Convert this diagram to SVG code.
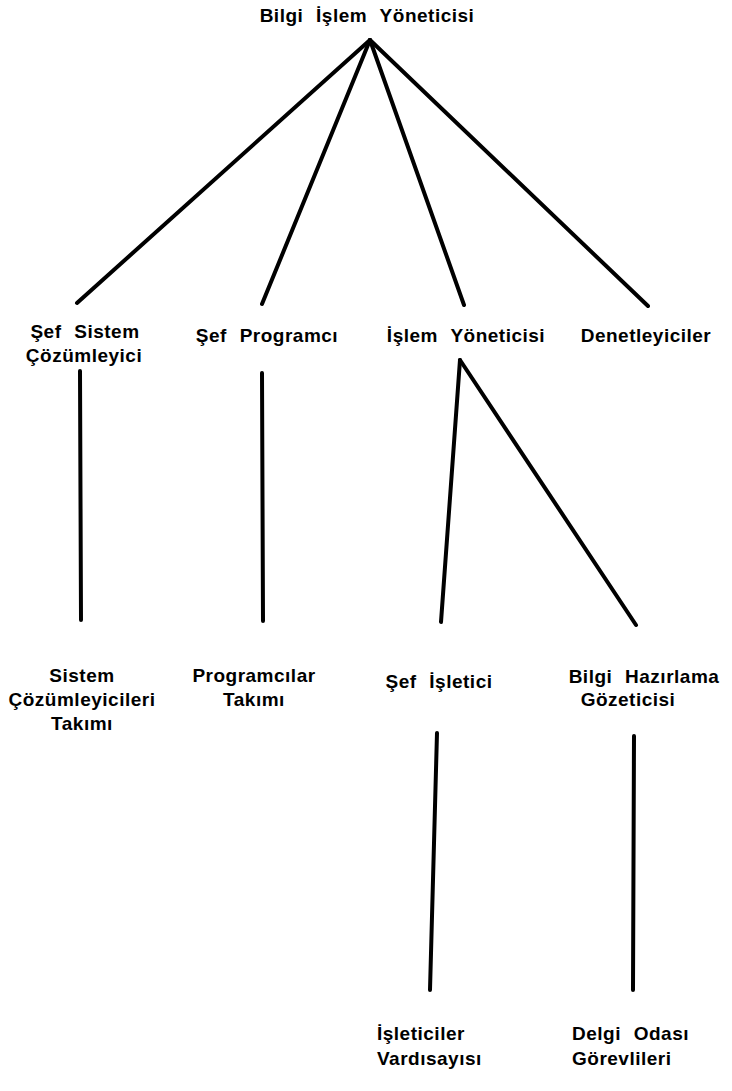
<svg xmlns="http://www.w3.org/2000/svg" width="732" height="1091" viewBox="0 0 732 1091">
<style>
text{font-family:"Liberation Sans",Arial,sans-serif;font-weight:bold;font-size:19px;fill:#000;word-spacing:7px;letter-spacing:0.5px}
.c{text-anchor:middle}
line{stroke:#000;stroke-width:4;stroke-linecap:round}
</style>
<rect width="732" height="1091" fill="#fff"/>
<g id="connectors">
<line x1="370" y1="40" x2="77" y2="303"/>
<line x1="370" y1="40" x2="262" y2="304"/>
<line x1="370" y1="40" x2="464" y2="305"/>
<line x1="370" y1="40" x2="648" y2="306"/>
<line x1="80" y1="371" x2="81" y2="620"/>
<line x1="262" y1="373" x2="263" y2="621"/>
<line x1="460" y1="360" x2="441" y2="622"/>
<line x1="460" y1="360" x2="636" y2="625"/>
<line x1="437" y1="733" x2="430" y2="990"/>
<line x1="634" y1="736" x2="633" y2="990"/>
</g>
<g id="n-yonetici"><text class="c" x="367" y="22">Bilgi İşlem Yöneticisi</text></g>
<g id="n-sefsistem"><text class="c" x="85" y="338">Şef Sistem</text><text class="c" x="84" y="362">Çözümleyici</text></g>
<g id="n-sefprogramci"><text class="c" x="267" y="342">Şef Programcı</text></g>
<g id="n-islemyon"><text class="c" x="466" y="342">İşlem Yöneticisi</text></g>
<g id="n-denet"><text class="c" x="646" y="342">Denetleyiciler</text></g>
<g id="n-sistemtakim"><text class="c" x="82" y="682">Sistem</text><text class="c" x="82" y="706">Çözümleyicileri</text><text class="c" x="82" y="730">Takımı</text></g>
<g id="n-progtakim"><text class="c" x="254" y="682">Programcılar</text><text class="c" x="254" y="706">Takımı</text></g>
<g id="n-sefisletici"><text class="c" x="439" y="688">Şef İşletici</text></g>
<g id="n-bilgihaz"><text class="c" x="644" y="683">Bilgi Hazırlama</text><text class="c" x="628" y="706">Gözeticisi</text></g>
<g id="n-isleticiler"><text x="377" y="1040">İşleticiler</text><text x="377" y="1065">Vardısayısı</text></g>
<g id="n-delgi"><text x="572" y="1040">Delgi Odası</text><text x="572" y="1065">Görevlileri</text></g>
</svg>
